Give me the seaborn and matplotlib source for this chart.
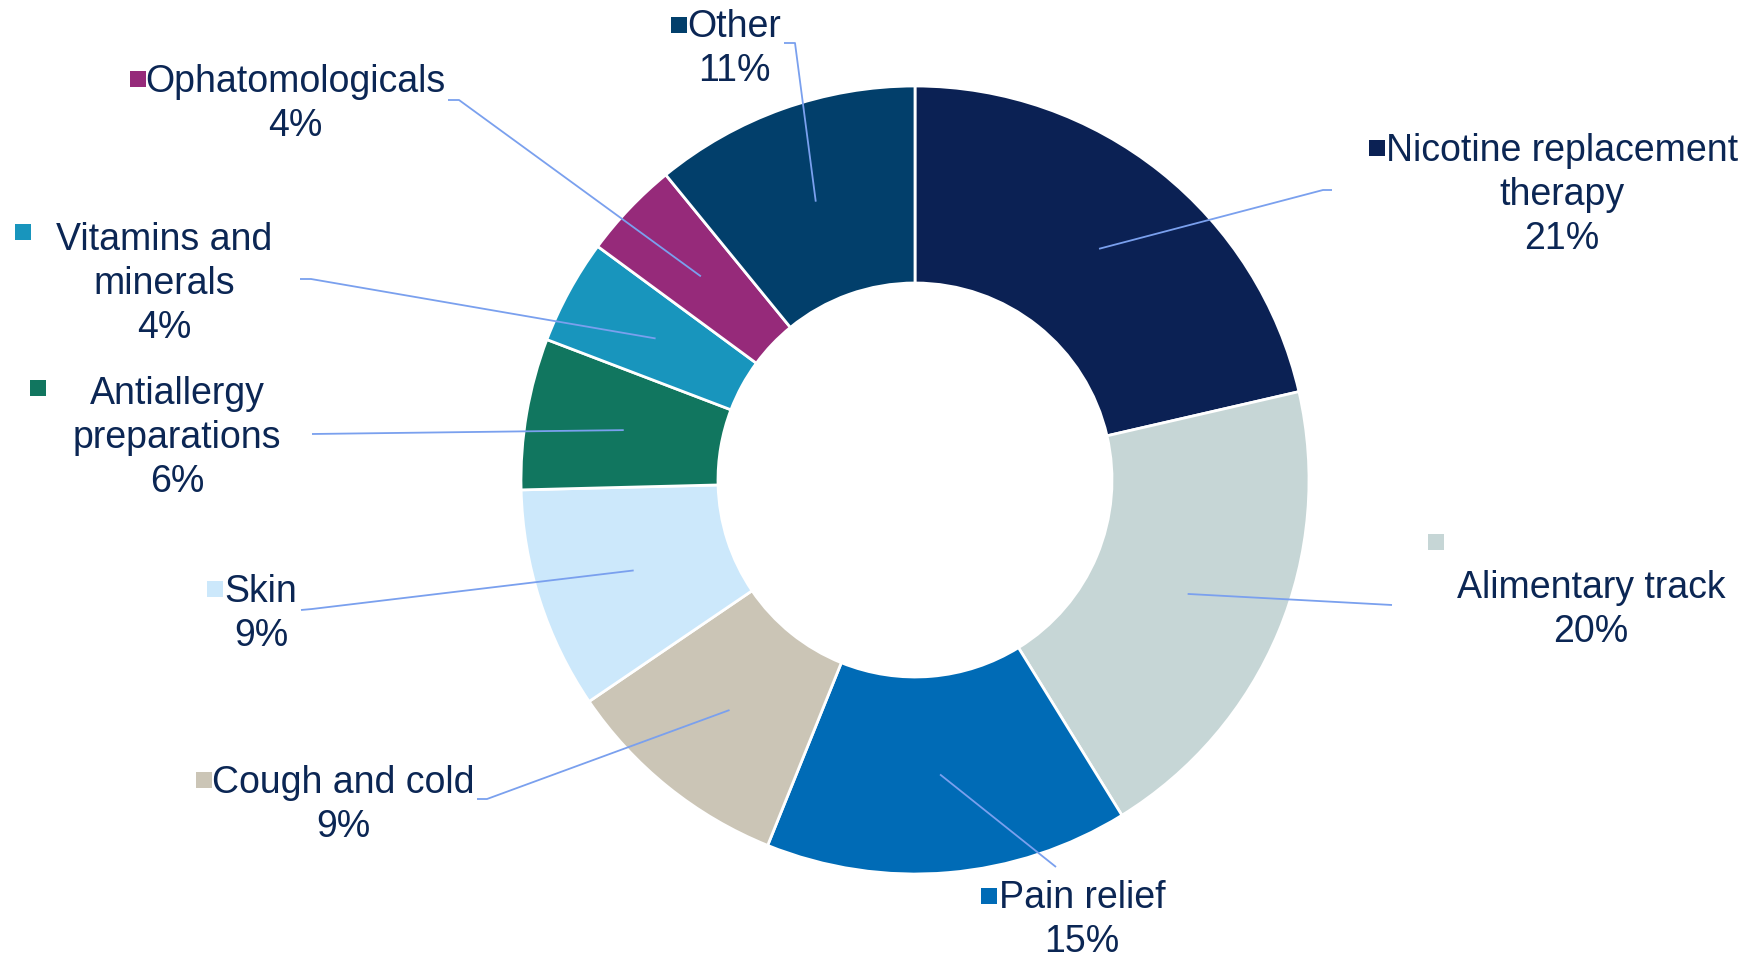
import matplotlib
matplotlib.use("Agg")
import matplotlib.pyplot as plt
import seaborn as sns
import numpy as np

sns.set_theme(style="white")
plt.rcParams["font.family"] = ["Liberation Sans", "DejaVu Sans"]

# ---- data ----
categories = ["Nicotine replacement\ntherapy", "Alimentary track", "Pain relief",
              "Cough and cold", "Skin", "Antiallergy\npreparations",
              "Vitamins and\nminerals", "Ophatomologicals", "Other"]
shares = [21.4, 19.8, 14.9, 9.4, 9.1, 6.2, 4.3, 4.0, 10.9]
colors = ["#0b2154", "#c6d6d6", "#006bb6", "#cbc5b6", "#cce8fb",
          "#11765f", "#1895bd", "#962a7a", "#023f6b"]

TEXT = "#0b2654"
LINE = "#7aa0ee"
W, H = 1754, 966

# label layout in image pixels (x, y from top)
label_xy = [(1562, 195), (1591, 610), (1082, 920), (343, 805), (261, 614),
            (177, 438), (164, 284), (295, 104), (734, 49)]
marker_xy = [(1377, 148), (1436, 542), (989, 896), (204, 780), (215, 589),
             (38, 388), (23, 232), (138, 79), (679, 25)]
leader_start = [[(1332, 190), (1323, 190)], [(1392, 605)], [(1056, 867)],
                [(477, 799), (487, 799)], [(301, 610), (312, 609)],
                [(312, 434)], [(300, 279), (311, 279)],
                [(448, 100), (459, 100)], [(784, 43), (795, 43)]]

fig = plt.figure(figsize=(W / 100, H / 100), dpi=100)
ax = fig.add_axes([0, 0, 1, 1])

cx, cy, R = 915, H - 480, 394
wedges, _ = ax.pie(shares, colors=colors, startangle=90, counterclock=False,
                   radius=R, center=(cx, cy),
                   wedgeprops=dict(width=R * 0.5, edgecolor="white", linewidth=2))

for i, w in enumerate(wedges):
    mid = np.deg2rad((w.theta1 + w.theta2) / 2)
    px, py = cx + 0.75 * R * np.cos(mid), cy + 0.75 * R * np.sin(mid)
    pts = [(x, H - y) for x, y in leader_start[i]] + [(px, py)]
    xs, ys = zip(*pts)
    ax.plot(xs, ys, color=LINE, lw=1.3, zorder=3, solid_capstyle="butt")

    lx, ly = label_xy[i]
    ax.text(lx, H - ly, f"{categories[i]}\n{shares[i]:.0f}%", ha="center", va="center",
            fontsize=27, color=TEXT, linespacing=1.28, multialignment="center")
    mx, my = marker_xy[i]
    ax.scatter([mx], [H - my], marker="s", s=125, color=colors[i], linewidths=0, zorder=4)

ax.set_xlim(0, W)
ax.set_ylim(0, H)
ax.set_aspect("equal")
ax.axis("off")

fig.savefig("out.png", dpi=100, facecolor="white")
